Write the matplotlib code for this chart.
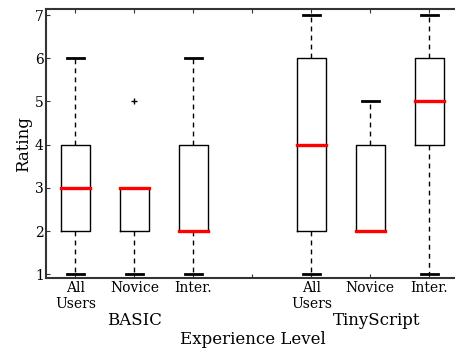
import matplotlib
matplotlib.use("Agg")
import matplotlib.pyplot as plt

# Ratings summary per language and experience level
positions = [1, 2, 3, 5, 6, 7]
tick_positions = [1, 2, 3, 4, 5, 6, 7]
tick_labels = ["All\nUsers", "Novice", "Inter.", "", "All\nUsers", "Novice", "Inter."]
whisker_low = [1, 1, 1, 1, 2, 1]
q1 = [2, 2, 2, 2, 2, 4]
median = [3, 3, 2, 4, 2, 5]
q3 = [4, 3, 4, 6, 4, 6]
whisker_high = [6, 3, 6, 7, 5, 7]
outliers = [[], [5], [], [], [], []]
groups = ["BASIC", "TinyScript"]
group_centers = [2, 6.1]
y_ticks = [1, 2, 3, 4, 5, 6, 7]

plt.rcParams["font.family"] = ["DejaVu Serif"]

stats = []
for lo, a, m, b, hi, fl in zip(whisker_low, q1, median, q3, whisker_high, outliers):
    stats.append({"whislo": lo, "q1": a, "med": m, "q3": b, "whishi": hi, "fliers": fl})

fig = plt.figure(figsize=(4.56, 3.48), dpi=100)
ax = fig.add_axes([46 / 456, 69.7 / 348, (458.8 - 46) / 456, 269.3 / 348])

ax.bxp(
    stats,
    positions=positions,
    widths=0.5,
    showfliers=True,
    boxprops=dict(color="black", linewidth=1.0),
    whiskerprops=dict(color="black", linewidth=1.0, linestyle=(0, (3.5, 3.0))),
    capprops=dict(color="black", linewidth=2.0),
    medianprops=dict(color="red", linewidth=2.4, solid_capstyle="projecting"),
    flierprops=dict(marker="+", markeredgecolor="black", markersize=5, linestyle="none"),
    capwidths=0.29,
)

ax.set_xlim(0.5, 7.5)
ax.set_ylim(0.905, 7.14)
ax.set_xticks(tick_positions)
ax.set_xticklabels(tick_labels, fontsize=10)
ax.set_yticks(y_ticks)
ax.set_yticklabels([str(v) for v in y_ticks], fontsize=10)

ax.tick_params(axis="both", direction="in", length=3, width=0.8, color="#333333",
               top=True, right=True)
ax.tick_params(axis="x", pad=2)
ax.tick_params(axis="y", pad=1.5)

for s in ax.spines.values():
    s.set_linewidth(1.5)
    s.set_color("#333333")

for name, cx in zip(groups, group_centers):
    ax.annotate(name, xy=(cx, 0), xycoords=("data", "axes fraction"),
                xytext=(0, -24), textcoords="offset points",
                ha="center", va="top", fontsize=12)

ax.set_ylabel("Rating", fontsize=12, labelpad=2)
ax.set_xlabel("Experience Level", fontsize=12, labelpad=14)

fig.savefig("out.png", dpi=100)
